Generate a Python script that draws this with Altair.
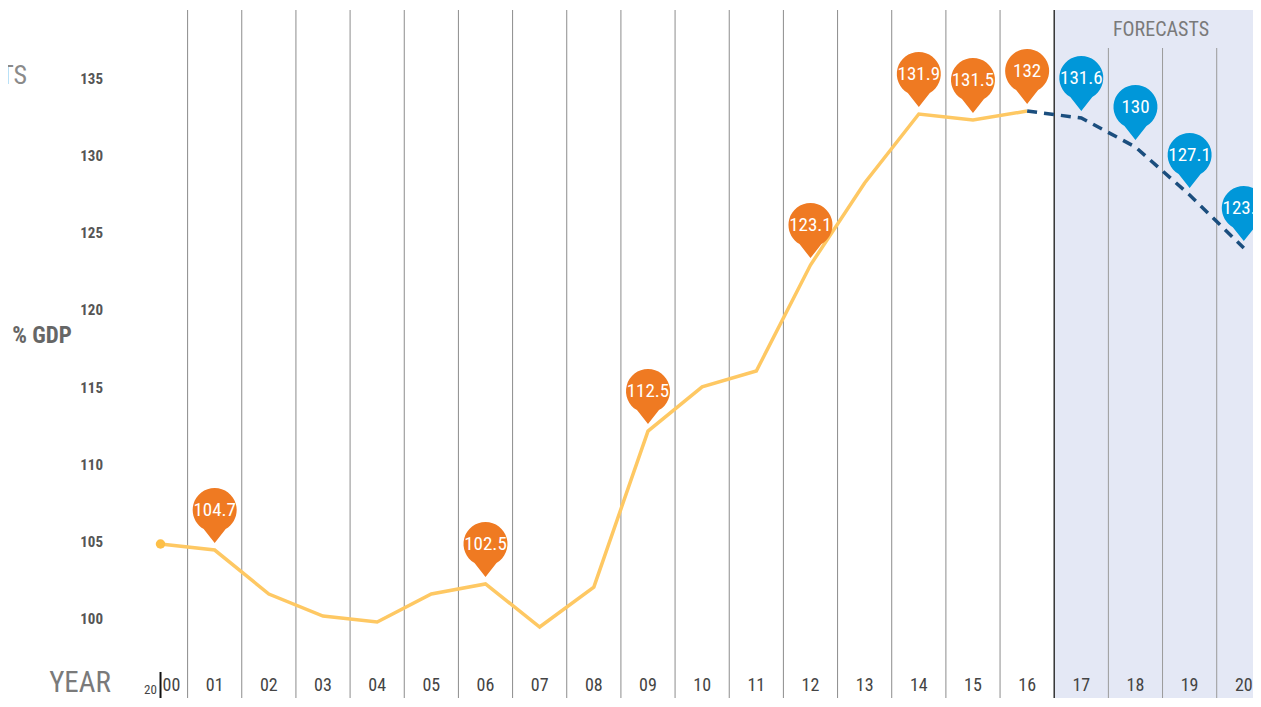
import altair as alt
import pandas as pd

FONT = "'Roboto Condensed', 'Liberation Sans Narrow', 'Arial Narrow', 'Liberation Sans', sans-serif"

# ---- data ----
year_labels = [f"{i:02d}" for i in range(21)]
actual_years = list(range(0, 17))
actual_values = [104.86, 104.47, 101.62, 100.19, 99.81, 101.62, 102.27, 99.48, 102.07,
                 112.18, 115.04, 116.07, 122.94, 128.26, 132.73, 132.34, 132.92]
forecast_years = [16, 17, 18, 19, 20]
forecast_values = [132.92, 132.47, 130.59, 127.48, 124.04]
pin_years = [1, 6, 9, 12, 14, 15, 16, 17, 18, 19, 20]
pin_labels = ["104.7", "102.5", "112.5", "123.1", "131.9", "131.5", "132",
              "131.6", "130", "127.1", "123.9"]
pin_kinds = ["actual"] * 7 + ["forecast"] * 4
y_ticks = [100, 105, 110, 115, 120, 125, 130, 135]
grid_years = [i + 0.5 for i in range(0, 16)]
band_grid_years = [17.5, 18.5, 19.5]
forecast_start = 16.5

# ---- frames ----
val_by_year = dict(zip(actual_years, actual_values))
val_by_year.update(dict(zip(forecast_years, forecast_values)))

actual_df = pd.DataFrame({"year": actual_years, "value": actual_values})
forecast_df = pd.DataFrame({"year": forecast_years, "value": forecast_values})
pins_df = pd.DataFrame({"year": pin_years, "label": pin_labels, "kind": pin_kinds,
                        "value": [val_by_year[y] for y in pin_years]})
xlab_df = pd.DataFrame({"year": list(range(1, 21)), "label": year_labels[1:]})
grid_df = pd.DataFrame({"year": grid_years})
band_grid_df = pd.DataFrame({"year": band_grid_years})
band_df = pd.DataFrame({"x": [forecast_start], "x2": [21.0]})
start_df = pd.DataFrame({"year": [0], "value": [actual_values[0]]})
ytick_df = pd.DataFrame({"value": y_ticks})

PLOT_W = 1120
PLOT_H = 688

xs = alt.Scale(domain=[-0.508, 20.17], nice=False, zero=False)
ys = alt.Scale(domain=[94.88, 139.47], nice=False, zero=False)

X = lambda f="year": alt.X(f"{f}:Q", scale=xs, axis=None)
Y = alt.Y("value:Q", scale=ys, axis=None)

PIN = "M-0.5,0.866 A1,1 0 1 1 0.5,0.866 L0,1.5 Z"

band = alt.Chart(band_df).mark_rect(color="#E4E8F5", clip=True).encode(
    x=alt.X("x:Q", scale=xs, axis=None), x2="x2:Q",
    y=alt.value(0), y2=alt.value(PLOT_H))

grid = alt.Chart(grid_df).mark_rule(color="#8c8c8c", strokeWidth=1).encode(
    x=X(), y=alt.value(0), y2=alt.value(PLOT_H))

band_grid = alt.Chart(band_grid_df).mark_rule(color="#9a9a9a", strokeWidth=1).encode(
    x=X(), y=alt.value(38), y2=alt.value(PLOT_H))

boundary = alt.Chart(pd.DataFrame({"year": [forecast_start]})).mark_rule(
    color="#333333", strokeWidth=1.5).encode(
    x=X(), y=alt.value(0), y2=alt.value(PLOT_H))

yaxis = alt.Chart(ytick_df).mark_text(
    font=FONT, fontSize=15, fontWeight="bold", color="#555555", align="right",
    baseline="middle").encode(
    x=alt.value(-30), y=Y, text=alt.Text("value:Q"))

actual_line = alt.Chart(actual_df).mark_line(
    color="#FEC863", strokeWidth=3.5, strokeJoin="miter").encode(x=X(), y=Y)

start_dot = alt.Chart(start_df).mark_circle(color="#FDBF47", size=90, opacity=1).encode(
    x=X(), y=Y)

forecast_line = alt.Chart(forecast_df).mark_line(
    color="#1B4E7E", strokeWidth=3.5, strokeDash=[10, 7]).encode(x=X(), y=Y)

color_scale = alt.Scale(domain=["actual", "forecast"], range=["#EF7A22", "#0097D9"])

pins = alt.Chart(pins_df).mark_point(
    shape=PIN, size=1936, filled=True, opacity=1, yOffset=-40).encode(
    x=X(), y=Y, color=alt.Color("kind:N", scale=color_scale, legend=None))

pin_text = alt.Chart(pins_df).mark_text(
    font=FONT, fontSize=19, color="white", baseline="middle", yOffset=-40).encode(
    x=X(), y=Y, text="label:N")

xlabels = alt.Chart(xlab_df).mark_text(
    font=FONT, fontSize=18, color="#444444", baseline="middle").encode(
    x=X(), y=alt.value(676), text="label:N")

zero_df = pd.DataFrame({"year": [0], "big": ["00"], "small": ["20"]})
zero_big = alt.Chart(zero_df).mark_text(
    font=FONT, fontSize=18, color="#444444", baseline="middle", xOffset=11).encode(
    x=X(), y=alt.value(676), text="big:N")
zero_small = alt.Chart(zero_df).mark_text(
    font=FONT, fontSize=13, color="#444444", baseline="middle", xOffset=-10).encode(
    x=X(), y=alt.value(680), text="small:N")
zero_bar = alt.Chart(zero_df).mark_rule(color="#111111", strokeWidth=2).encode(
    x=X(), y=alt.value(662), y2=alt.value(688))

def label(txt, x, y, size, color, weight="normal", align="center"):
    return alt.Chart(pd.DataFrame({"t": [txt]})).mark_text(
        font=FONT, fontSize=size, color=color, fontWeight=weight, align=align,
        baseline="middle").encode(x=alt.value(x), y=alt.value(y), text="t:N")

year_title = label("YEAR", -53, 673, 29, "#7a7a7a")
gdp_title = label("% GDP", -91, 326, 23, "#666666", weight="bold")
fc_title = label("FORECASTS", 1028, 20, 20, "#7a7a7a")
fc_left = label("FORECASTS", -106, 66, 26, "#8a8a8a", align="right")

chart = alt.layer(
    band, grid, band_grid, boundary, yaxis, actual_line, start_dot, forecast_line,
    pins, pin_text, xlabels, zero_big, zero_small, zero_bar,
    year_title, gdp_title, fc_title, fc_left,
).properties(
    width=PLOT_W, height=PLOT_H,
    autosize=alt.AutoSizeParams(type="none"),
    padding={"left": 125, "top": 2, "right": 0, "bottom": 0},
).configure_view(stroke=None)

chart.save("out.html", embed_options={"renderer": "svg", "actions": False})
